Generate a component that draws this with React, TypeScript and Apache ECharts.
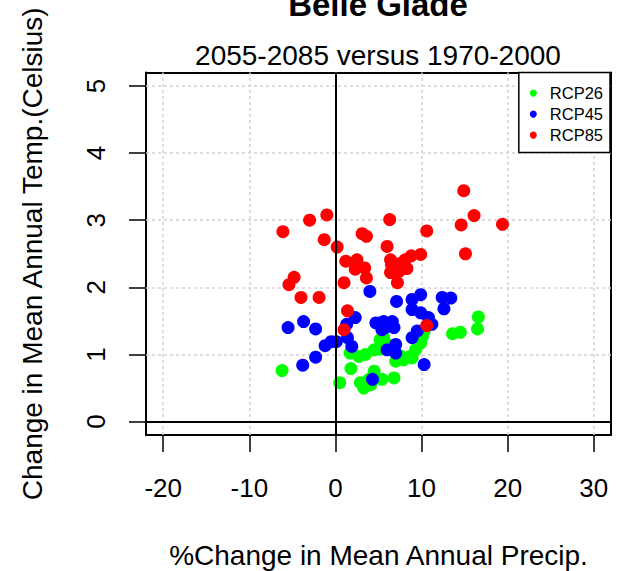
import React, { useEffect, useRef } from "react";
import * as echarts from "echarts";

// Axis tick positions
const xTicks = [-20, -10, 0, 10, 20, 30];
const yTicks = [0, 1, 2, 3, 4, 5];

// RCP2.6 scenario: % change in precipitation vs change in temperature
const rcp26Precip = [-6.2, 0.5, 1.8, 1.7, 2.7, 3.5, 4.5, 5.2, 2.9, 3.3, 3.9, 4.5, 5.4, 6.8, 7.0, 7.9, 8.7, 9.3, 9.9, 10.1, 16.6, 16.5, 13.6, 14.5, 10.3, 7.6, 8.9, 5.6, 6.0, 4.1, 5.2];
const rcp26Temp = [0.76, 0.58, 0.79, 1.02, 0.97, 1.0, 1.07, 1.22, 0.58, 0.5, 0.63, 0.75, 0.63, 0.65, 0.9, 0.92, 0.97, 1.07, 1.17, 1.27, 1.56, 1.38, 1.31, 1.33, 1.35, 0.97, 0.95, 1.25, 1.15, 0.55, 1.08];

// RCP4.5 scenario
const rcp45Precip = [4.0, 2.3, 1.3, -5.5, -3.7, -2.3, -1.2, -0.5, 0.1, 1.4, 1.9, -2.3, -3.8, 4.3, 4.7, 5.2, 5.4, 5.6, 6.6, 6.8, 5.8, 7.1, 8.9, 9.9, 12.4, 13.4, 12.6, 8.9, 9.9, 10.8, 11.2, 9.5, 8.9, 7.0, 6.0, 7.0, 10.3];
const rcp45Temp = [1.94, 1.55, 1.45, 1.4, 1.49, 1.38, 1.13, 1.19, 1.19, 1.25, 1.12, 0.96, 0.84, 0.63, 1.47, 1.47, 1.37, 1.49, 1.49, 1.4, 1.4, 1.79, 1.82, 1.89, 1.85, 1.84, 1.68, 1.67, 1.62, 1.55, 1.45, 1.35, 1.25, 1.15, 1.07, 1.02, 0.85];

// RCP8.5 scenario
const rcp85Precip = [-6.1, -3.0, -1.0, -1.3, 0.2, 3.1, 3.6, 1.2, 2.5, 3.4, 2.3, 3.6, -4.8, -5.4, 1.0, 6.3, 10.6, 6.0, 6.4, 9.9, 8.8, 8.1, 7.6, 8.3, 6.5, 6.4, 7.4, 7.2, 14.9, 16.1, 14.6, 19.4, 15.1, -4.0, -1.9, 1.4, 1.0, 10.6];
const rcp85Temp = [2.83, 3.0, 3.08, 2.71, 2.6, 2.8, 2.76, 2.39, 2.41, 2.29, 2.27, 2.14, 2.15, 2.04, 2.07, 3.01, 2.84, 2.61, 2.41, 2.49, 2.47, 2.41, 2.36, 2.28, 2.34, 2.22, 2.24, 2.07, 3.44, 3.07, 2.93, 2.94, 2.5, 1.85, 1.85, 1.65, 1.37, 1.43];

const seriesNames = ["RCP26", "RCP45", "RCP85"];
const seriesColors = ["#00FF00", "#0000FF", "#FF0000"];

const FONT = "'Liberation Sans', Arial, Helvetica, sans-serif";

const pairs = (xs: number[], ys: number[]) => xs.map((x, i) => [x, ys[i]]);

export default function App() {
  const ref = useRef<HTMLDivElement>(null);

  useEffect(() => {
    if (!ref.current) return;
    const chart = echarts.init(ref.current, null, { renderer: "svg" });
    const black = "#000";
    const boxLine = { color: black, width: 2 };
    const tickLine = { color: black, width: 1.5 };
    const plain = { show: false };

    const scatter = (name: string, color: string, data: number[][]) => ({
      name,
      type: "scatter",
      data,
      symbol: "circle",
      symbolSize: 13,
      itemStyle: { color, opacity: 1 },
      emphasis: { disabled: true },
      z: 2,
    });

    chart.setOption({
      animation: false,
      backgroundColor: "#fff",
      title: [
        {
          text: "Belle Glade",
          left: 378,
          top: -12,
          padding: 0,
          textAlign: "center",
          textStyle: { fontFamily: FONT, fontSize: 33, fontWeight: "bold", color: black },
        },
        {
          text: "2055-2085 versus 1970-2000",
          left: 378,
          top: 41,
          padding: 0,
          textAlign: "center",
          textStyle: { fontFamily: FONT, fontSize: 28, fontWeight: "normal", color: black },
        },
      ],
      legend: {
        data: seriesNames,
        orient: "vertical",
        right: 7,
        top: 72.6,
        icon: "circle",
        itemWidth: 7,
        itemHeight: 7,
        itemGap: 4,
        padding: [12, 7, 9, 11],
        backgroundColor: "#fff",
        borderColor: black,
        borderWidth: 1.5,
        borderRadius: 0,
        selectedMode: false,
        textStyle: { fontFamily: FONT, fontSize: 16.5, color: black, padding: [0, 0, 0, 8] },
      },
      grid: { left: 146, right: 6, top: 72.6, bottom: 136, outerBoundsMode: "none" },
      xAxis: [
        {
          type: "value",
          min: -22,
          max: 32,
          position: "bottom",
          axisLine: { show: true, onZero: false, lineStyle: boxLine },
          axisTick: { show: true, length: 17, customValues: xTicks, lineStyle: tickLine },
          axisLabel: { customValues: xTicks, margin: 40, fontSize: 26, fontFamily: FONT, color: black },
          splitLine: plain,
          name: "%Change in Mean Annual Precip.",
          nameLocation: "middle",
          nameGap: 106,
          nameMoveOverlap: false,
          nameTextStyle: { fontFamily: FONT, fontSize: 28, color: black },
        },
        {
          type: "value",
          min: -22,
          max: 32,
          position: "top",
          axisLine: { show: true, onZero: false, lineStyle: boxLine },
          axisTick: plain,
          axisLabel: plain,
          splitLine: plain,
        },
      ],
      yAxis: [
        {
          type: "value",
          min: -0.2,
          max: 5.2,
          position: "left",
          axisLine: { show: true, onZero: false, lineStyle: boxLine },
          axisTick: { show: true, length: 17, customValues: yTicks, lineStyle: tickLine },
          axisLabel: { customValues: yTicks, rotate: 90, margin: 37, fontSize: 26, fontFamily: FONT, color: black },
          splitLine: plain,
          name: "Change in Mean Annual Temp.(Celsius)",
          nameLocation: "middle",
          nameGap: 100,
          nameMoveOverlap: false,
          nameTextStyle: { fontFamily: FONT, fontSize: 28, color: black },
        },
        {
          type: "value",
          min: -0.2,
          max: 5.2,
          position: "right",
          axisLine: { show: true, onZero: false, lineStyle: boxLine },
          axisTick: plain,
          axisLabel: plain,
          splitLine: plain,
        },
      ],
      series: [
        // dotted reference grid
        {
          type: "scatter",
          data: [],
          silent: true,
          markLine: {
            z: 1,
            silent: true,
            symbol: "none",
            label: { show: false },
            emphasis: { disabled: true },
            lineStyle: { color: "#D3D3D3", width: 1.5, type: [3, 3] },
            data: [...xTicks.map((v) => ({ xAxis: v })), ...yTicks.map((v) => ({ yAxis: v }))],
          },
        },
        scatter(seriesNames[0], seriesColors[0], pairs(rcp26Precip, rcp26Temp)),
        scatter(seriesNames[1], seriesColors[1], pairs(rcp45Precip, rcp45Temp)),
        scatter(seriesNames[2], seriesColors[2], pairs(rcp85Precip, rcp85Temp)),
        // zero reference lines
        {
          type: "scatter",
          data: [],
          silent: true,
          markLine: {
            z: 5,
            silent: true,
            symbol: "none",
            label: { show: false },
            emphasis: { disabled: true },
            lineStyle: { color: black, width: 2, type: "solid" },
            data: [{ xAxis: 0 }, { yAxis: 0 }],
          },
        },
      ],
    });

    return () => chart.dispose();
  }, []);

  return (
    <div
      ref={ref}
      style={{ position: "fixed", left: 0, top: 0, width: 617, height: 571, background: "#fff" }}
    />
  );
}
